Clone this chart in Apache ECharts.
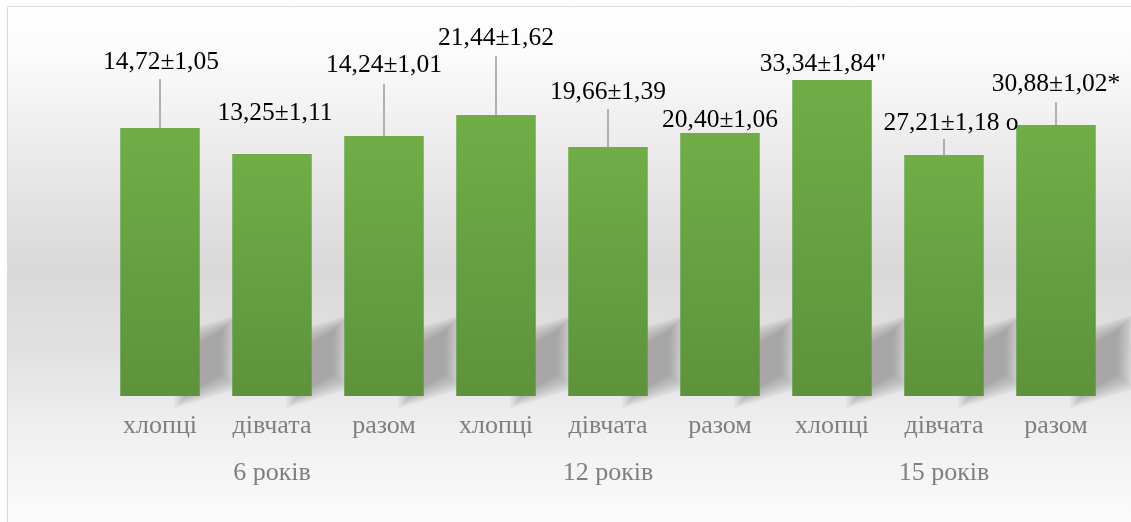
<!DOCTYPE html>
<html lang="uk">
<head>
    <meta charset="UTF-8">
    <title>Показники за віком</title>
    <style>
        *{
            margin: 0;
            padding: 0;
        }
        body{
            background: #ffffff;
        }
        #chart{
            width: 1131px;
            height: 522px;
        }
    </style>
    <script src="https://cdn.jsdelivr.net/npm/echarts@6/dist/echarts.min.js"></script>
</head>
<body>
    <div id="chart"></div>
    <script>
        // дані
        const categories = ['хлопці', 'дівчата', 'разом', 'хлопці', 'дівчата', 'разом', 'хлопці', 'дівчата', 'разом']
        const ageGroups = ['6 років', '12 років', '15 років']
        // висоти стовпців, як на рисунку (умовні одиниці)
        const barHeights = [268, 242, 260, 281, 249, 263, 316, 241, 271]
        const valueLabels = ['14,72±1,05', '13,25±1,11', '14,24±1,01', '21,44±1,62', '19,66±1,39',
            '20,40±1,06', '33,34±1,84"', '27,21±1,18 o', '30,88±1,02*']

        // розкладка підписів (px)
        const labelLift = [53, 28, 58, 64, 42, 0, 3, 19, 28]
        const labelShiftX = [1, 3, 0, 0, 0, 0, -9, 7, 0]
        const leaderLen = [49, 0, 52, 59, 38, 0, 0, 16, 23]

        const serif = '"Liberation Serif", "DejaVu Serif", serif'
        const myChart = echarts.init(document.getElementById('chart'))

        // розмита тінь: кілька напівпрозорих шарів
        function shadowLayers(r, y0) {
            const layers = []
            for (let k = 6; k >= 0; k--) {
                const d = k * 2.5
                layers.push({
                    type: 'polygon',
                    shape: { points: [
                        [r - 10 - d, y0 - 3 + d], [r + 22 + d, y0 - 22 + d],
                        [r + 22 + d, y0 - 66 - d], [r - 10 - d, y0 - 47 - d]
                    ] },
                    style: { fill: 'rgba(120,120,120,0.1)' }
                })
            }
            return layers
        }

        const option = {
            animation: false,
            graphic: [{
                type: 'rect',
                z: -10,
                silent: true,
                shape: { x: 7.5, y: 6.5, width: 1200, height: 520 },
                style: {
                    stroke: '#d9d9d9',
                    lineWidth: 1,
                    fill: new echarts.graphic.LinearGradient(0, 0, 0, 1, [
                        { offset: 0, color: '#ffffff' },
                        { offset: 0.08, color: '#fcfcfc' },
                        { offset: 0.3, color: '#e9e9e9' },
                        { offset: 0.5, color: '#d9d9d9' },
                        { offset: 0.66, color: '#e1e1e1' },
                        { offset: 0.82, color: '#f0f0f0' },
                        { offset: 1, color: '#fcfcfc' }
                    ])
                }
            }],
            grid: { left: 104, right: 19, top: 16, bottom: 126 },
            xAxis: [{
                type: 'category',
                data: categories,
                axisLine: { show: false },
                axisTick: { show: false },
                axisLabel: { color: '#7f7f7f', fontFamily: serif, fontSize: 26, margin: 17 }
            }, {
                type: 'category',
                data: ageGroups,
                position: 'bottom',
                offset: 47,
                axisLine: { show: false },
                axisTick: { show: false },
                axisLabel: { color: '#7f7f7f', fontFamily: serif, fontSize: 26, margin: 17 }
            }],
            yAxis: { type: 'value', min: 0, max: 380, show: false },
            series: [{
                // тінь біля основи стовпців
                type: 'custom',
                z: 1,
                silent: true,
                data: barHeights.map((v, i) => [i, v]),
                renderItem: function (params, api) {
                    const base = api.coord([api.value(0), 0])
                    const w = api.size([1, 0])[0] * 0.71
                    return { type: 'group', children: shadowLayers(base[0] + w / 2, base[1]) }
                },
                encode: { x: 0, y: 1 }
            }, {
                type: 'bar',
                z: 3,
                barCategoryGap: '29%',
                data: barHeights.map((v, i) => ({
                    value: v,
                    label: { distance: labelLift[i], offset: [labelShiftX[i], 0] }
                })),
                itemStyle: {
                    color: new echarts.graphic.LinearGradient(0, 0, 0, 1, [
                        { offset: 0, color: '#70ad47' },
                        { offset: 1, color: '#5d933c' }
                    ])
                },
                label: {
                    show: true,
                    position: 'top',
                    color: '#000000',
                    fontFamily: serif,
                    fontSize: 25.5,
                    formatter: p => valueLabels[p.dataIndex]
                }
            }, {
                // виносні лінії до підписів
                type: 'custom',
                z: 4,
                silent: true,
                data: barHeights.map((v, i) => [i, v]),
                renderItem: function (params, api) {
                    const i = params.dataIndex
                    if (!leaderLen[i]) return
                    const top = api.coord([api.value(0), api.value(1)])
                    return {
                        type: 'line',
                        shape: { x1: top[0], y1: top[1], x2: top[0], y2: top[1] - leaderLen[i] },
                        style: { stroke: '#9a9a9a', lineWidth: 1.5 }
                    }
                },
                encode: { x: 0, y: 1 }
            }]
        }
        myChart.setOption(option)
    </script>
</body>
</html>
